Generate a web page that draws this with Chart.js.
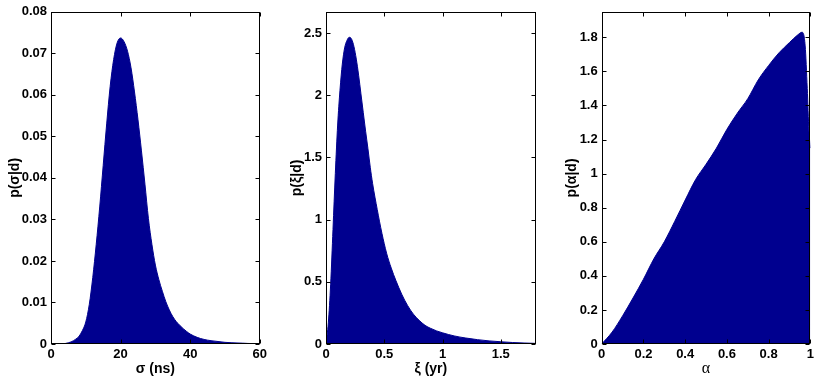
<!DOCTYPE html>
<html>
<head>
<meta charset="utf-8">
<script src="https://cdn.jsdelivr.net/npm/chart.js@4/dist/chart.umd.min.js"></script>
<style>
  html, body { margin: 0; padding: 0; background: #fff; }
  #wrap { position: relative; width: 817px; height: 383px; overflow: hidden; }
  canvas { position: absolute; top: 0; }
</style>
</head>
<body>
<div id="wrap">
  <canvas id="c1" width="270" height="383" style="left:0px"></canvas>
  <canvas id="c2" width="275" height="383" style="left:270px"></canvas>
  <canvas id="c3" width="272" height="383" style="left:545px"></canvas>
</div>
<script>
// ---- Panel 1: sigma (ns) ----
const sigmaX = [0,1,2,3,4,5,6,7,8,9,10,11,12,13,14,15,16,17,18,19,20,21,22,23,24,25,26,27,28,29,30,31,32,33,34,35,36,37,38,39,40,42,44,46,48,50,52,55,58,60];
const sigmaP = [0,0,0.00002,0.00005,0.0001,0.0003,0.0006,0.0011,0.0018,0.0032,0.0053,0.0095,0.016,0.024,0.033,0.043,0.053,0.062,0.0685,0.0725,0.0737,0.0728,0.0705,0.0665,0.0607,0.054,0.0465,0.0385,0.0302,0.024,0.019,0.0155,0.0127,0.0102,0.0082,0.0066,0.0054,0.0045,0.0037,0.003,0.0024,0.0016,0.0011,0.0008,0.0006,0.0004,0.0003,0.0002,0.0001,0.0001];
const sigmaXTicks = [0,20,40,60];
const sigmaYTicks = [0,0.01,0.02,0.03,0.04,0.05,0.06,0.07,0.08];

// ---- Panel 2: xi (yr) ----
const xiX = [0,0.02,0.04,0.06,0.08,0.10,0.12,0.14,0.16,0.18,0.20,0.22,0.24,0.26,0.28,0.30,0.32,0.34,0.36,0.38,0.40,0.44,0.48,0.52,0.56,0.60,0.65,0.70,0.75,0.80,0.85,0.90,0.95,1.0,1.1,1.2,1.3,1.4,1.5,1.6,1.7,1.8];
const xiP = [0,0.17,0.48,0.92,1.37,1.76,2.04,2.25,2.38,2.44,2.465,2.45,2.39,2.29,2.16,2.01,1.86,1.71,1.57,1.42,1.29,1.08,0.89,0.73,0.61,0.51,0.40,0.31,0.24,0.19,0.15,0.125,0.105,0.09,0.065,0.048,0.035,0.025,0.018,0.012,0.008,0.005];
const xiXTicks = [0,0.5,1,1.5];
const xiYTicks = [0,0.5,1,1.5,2,2.5];

// ---- Panel 3: alpha ----
const alphaX = [0,0.05,0.1,0.15,0.2,0.25,0.3,0.35,0.4,0.45,0.5,0.55,0.6,0.65,0.7,0.75,0.8,0.85,0.9,0.94,0.96,0.975,0.985,0.993,1.0];
const alphaP = [0,0.07,0.165,0.27,0.38,0.5,0.6,0.72,0.845,0.965,1.055,1.15,1.26,1.355,1.44,1.55,1.635,1.71,1.77,1.815,1.83,1.75,1.5,1.25,1.15];
const alphaXTicks = [0,0.2,0.4,0.6,0.8,1];
const alphaYTicks = [0,0.2,0.4,0.6,0.8,1,1.2,1.4,1.6,1.8];

const FILL = 'rgb(0,0,143)';
const SANS = "'Liberation Sans', Arial, Helvetica, sans-serif";
const SERIF = "'Liberation Serif', 'Times New Roman', serif";

const boxTicks = {
  id: 'boxTicks',
  afterDraw(chart) {
    const { ctx, chartArea: a, scales: { x, y } } = chart;
    const L = Math.round(a.left) + 0.5, R = Math.round(a.right) - 0.5;
    const T = Math.round(a.top) + 0.5, B = Math.round(a.bottom) - 0.5;
    const len = 4;
    ctx.save();
    ctx.strokeStyle = '#000';
    ctx.lineWidth = 1;
    ctx.beginPath();
    x.ticks.forEach(t => {
      const px = Math.round(x.getPixelForValue(t.value)) + 0.5;
      ctx.moveTo(px, B); ctx.lineTo(px, B - len);
      ctx.moveTo(px, T); ctx.lineTo(px, T + len);
    });
    y.ticks.forEach(t => {
      const py = Math.round(y.getPixelForValue(t.value)) + 0.5;
      ctx.moveTo(L, py); ctx.lineTo(L + len, py);
      ctx.moveTo(R, py); ctx.lineTo(R - len, py);
    });
    ctx.stroke();
    ctx.strokeRect(L, T, R - L, B - T);
    ctx.restore();
  }
};

const fmt = v => String(Number(Number(v).toFixed(4)));

function makeChart(id, xs, ys, xMax, yMax, xTicks, yTicks, xTitle, yTitle, yAxisW, padRight, yTitlePad, xTitleFont) {
  const pts = xs.map((v, i) => ({ x: v, y: ys[i] }));
  return new Chart(document.getElementById(id), {
    type: 'line',
    data: {
      datasets: [{
        data: pts,
        borderColor: FILL,
        backgroundColor: FILL,
        borderWidth: 1,
        fill: 'origin',
        pointRadius: 0,
        cubicInterpolationMode: 'monotone'
      }]
    },
    options: {
      responsive: false,
      animation: false,
      devicePixelRatio: 1,
      layout: { padding: { top: 10, right: padRight, left: 0, bottom: 0 } },
      plugins: { legend: { display: false }, tooltip: { enabled: false } },
      scales: {
        x: {
          type: 'linear', min: 0, max: xMax,
          grid: { display: false, drawTicks: false },
          border: { display: false },
          afterBuildTicks: s => { s.ticks = xTicks.map(v => ({ value: v })); },
          afterFit: s => { s.height = 39; },
          ticks: {
            autoSkip: false, maxRotation: 0, padding: 3,
            color: '#000', font: { family: SANS, size: 13, weight: 'bold' },
            callback: fmt
          },
          title: {
            display: true, text: xTitle, color: '#000',
            font: xTitleFont, padding: { top: 0, bottom: 5 }
          }
        },
        y: {
          type: 'linear', min: 0, max: yMax,
          grid: { display: false, drawTicks: false },
          border: { display: false },
          afterBuildTicks: s => { s.ticks = yTicks.map(v => ({ value: v })); },
          afterFit: s => { s.width = yAxisW; },
          ticks: {
            autoSkip: false, padding: 4,
            color: '#000', font: { family: SANS, size: 13, weight: 'bold' },
            callback: fmt
          },
          title: {
            display: true, text: yTitle, color: '#000',
            font: { family: SANS, size: 14, weight: 'bold' },
            padding: { top: yTitlePad, bottom: 0 }
          }
        }
      }
    },
    plugins: [boxTicks]
  });
}

const boldTitle = { family: SANS, size: 14, weight: 'bold' };
makeChart('c1', sigmaX, sigmaP, 60, 0.08, sigmaXTicks, sigmaYTicks, 'σ (ns)', 'p(σ|d)', 51, 10, 7, boldTitle);
makeChart('c2', xiX, xiP, 1.8, 2.67, xiXTicks, xiYTicks, 'ξ (yr)', 'p(ξ|d)', 56, 9.3, 19, boldTitle);
makeChart('c3', alphaX, alphaP, 1, 1.95, alphaXTicks, alphaYTicks, 'α', 'p(α|d)', 56.7, 6.3, 19, { family: SERIF, size: 16, weight: 'normal' });
</script>
</body>
</html>
